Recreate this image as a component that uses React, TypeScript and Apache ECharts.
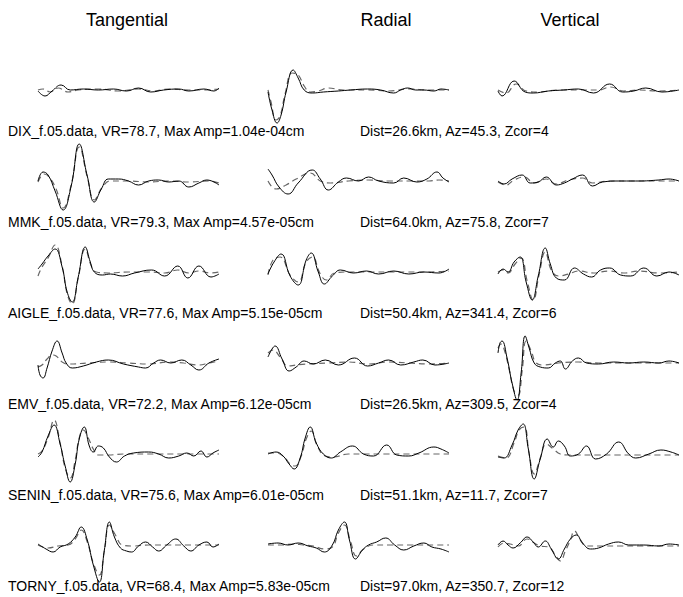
import React, { useEffect, useRef } from "react";
import * as echarts from "echarts";

// Column titles
const componentTitles = ["Tangential", "Radial", "Vertical"];

// Row annotations
const stationLabels = [
  "DIX_f.05.data, VR=78.7, Max Amp=1.04e-04cm",
  "MMK_f.05.data, VR=79.3, Max Amp=4.57e-05cm",
  "AIGLE_f.05.data, VR=77.6, Max Amp=5.15e-05cm",
  "EMV_f.05.data, VR=72.2, Max Amp=6.12e-05cm",
  "SENIN_f.05.data, VR=75.6, Max Amp=6.01e-05cm",
  "TORNY_f.05.data, VR=68.4, Max Amp=5.83e-05cm",
];
const geometryLabels = [
  "Dist=26.6km, Az=45.3, Zcor=4",
  "Dist=64.0km, Az=75.8, Zcor=7",
  "Dist=50.4km, Az=341.4, Zcor=6",
  "Dist=26.5km, Az=309.5, Zcor=4",
  "Dist=51.1km, Az=11.7, Zcor=7",
  "Dist=97.0km, Az=350.7, Zcor=12",
];

// Waveforms: [time sample, relative amplitude]
// DIX
const DIX_T_OBS = [[0,-1],[7,-6],[14,-1],[23,5],[32,0],[45,1],[60,0],[75,1],[88,-1],[100,2],[112,-2],[125,0],[140,1],[150,-1],[165,1],[175,-1],[180,2]];
const DIX_T_SYN = [[0,0],[5,1],[12,-2],[20,2],[30,-2],[40,0],[60,1],[80,-1],[100,1],[115,-1],[130,1],[150,0],[165,0],[180,1]];
const DIX_R_OBS = [[0,-2],[4,-20],[9,-33],[13,-25],[18,-2],[25,20],[30,12],[36,0],[44,-3],[55,-2],[70,-1],[82,0],[99,1],[112,0],[125,-3],[132,0],[139,2],[147,0],[155,0],[165,-1],[172,1],[180,0]];
const DIX_R_SYN = [[0,0],[3,-12],[8,-30],[12,-26],[17,-4],[24,17],[30,15],[36,4],[42,-2],[50,-1],[60,2],[75,0],[100,0],[120,-1],[140,1],[160,0],[180,0]];
const DIX_V_OBS = [[0,-1],[4,-6],[16,9],[27,-2],[35,-3],[50,-1],[65,0],[80,1],[95,-3],[111,6],[124,-2],[135,-1],[147,2],[163,-2],[180,0]];
const DIX_V_SYN = [[0,0],[8,-3],[18,6],[28,-1],[40,-2],[60,0],[80,0],[100,0],[112,3],[125,-1],[140,0],[160,-1],[180,0]];
// MMK
const MMK_T_OBS = [[0,0],[5,9],[10,6],[17,-10],[25,-29],[33,-5],[41,37],[49,5],[56,-21],[63,-8],[70,2],[80,2],[90,0],[100,-4],[110,0],[120,1],[130,-1],[140,0],[150,-6],[160,-2],[168,1],[180,-4]];
const MMK_T_SYN = [[0,-1],[6,7],[11,4],[18,-8],[25,-27],[33,-4],[41,34],[49,4],[56,-19],[64,-6],[72,0],[90,0],[110,-1],[130,0],[150,-1],[170,0],[180,-2]];
const MMK_R_OBS = [[0,12],[4,6],[11,-6],[20,-13],[30,-2],[44,11],[52,2],[60,-9],[70,-1],[78,3],[90,0],[100,4],[110,0],[125,-2],[135,3],[148,-1],[158,2],[168,9],[174,3],[180,-1]];
const MMK_R_SYN = [[0,0],[8,-8],[18,-4],[28,2],[42,8],[52,0],[62,-2],[80,0],[100,1],[120,0],[140,0],[160,0],[170,1],[180,0]];
const MMK_V_OBS = [[0,0],[6,-3],[14,2],[24,6],[32,-2],[40,-1],[48,4],[58,-4],[66,-2],[74,2],[84,6],[94,-5],[104,-1],[120,0],[140,0],[160,1],[170,2],[180,0]];
const MMK_V_SYN = [[0,-1],[8,-4],[16,1],[26,4],[36,-2],[48,2],[58,-3],[70,1],[84,3],[94,-2],[110,0],[140,0],[160,0],[180,0]];
// AIGLE
const AIGLE_T_OBS = [[0,3],[4,8],[10,16],[17,23],[24,5],[29,-20],[34,-30],[40,-5],[47,25],[52,10],[56,0],[64,-3],[72,-2],[84,-4],[96,-1],[113,2],[126,-4],[139,6],[149,-6],[160,6],[172,-5],[180,-2]];
const AIGLE_T_SYN = [[0,-4],[4,5],[10,14],[17,27],[24,6],[29,-22],[34,-32],[40,-6],[47,23],[53,6],[58,0],[70,-1],[90,0],[110,0],[126,-1],[139,2],[150,-1],[160,1],[172,-1],[180,0]];
const AIGLE_R_OBS = [[0,-2],[6,10],[13,18],[22,-4],[30,-13],[38,12],[43,19],[50,0],[56,-12],[64,-4],[72,2],[85,-1],[98,1],[110,-2],[125,1],[140,-2],[155,0],[170,-1],[180,3]];
const AIGLE_R_SYN = [[0,-3],[5,12],[12,15],[22,-3],[30,-10],[38,10],[44,15],[52,-2],[58,-8],[66,-1],[80,0],[100,0],[120,0],[140,0],[160,0],[180,1]];
const AIGLE_V_OBS = [[0,-2],[5,3],[10,0],[16,10],[22,15],[28,-10],[34,-28],[40,-4],[47,24],[52,8],[58,-6],[66,-8],[76,4],[85,-2],[93,-5],[102,2],[111,4],[122,-3],[132,-4],[145,4],[158,-4],[170,0],[180,-3]];
const AIGLE_V_SYN = [[0,0],[5,2],[10,-1],[17,8],[23,14],[29,-9],[35,-28],[41,-2],[47,20],[53,2],[60,-4],[70,-2],[80,1],[95,-1],[110,1],[125,-1],[140,1],[160,-1],[180,0]];
// EMV
const EMV_T_OBS = [[0,-2],[2,-12],[5,-15],[9,-5],[14,12],[19,22],[24,10],[28,0],[34,-5],[45,-3],[58,1],[70,3],[85,-1],[100,-4],[107,-5],[115,0],[122,3],[132,0],[143,3],[152,-2],[160,-7],[170,0],[180,4]];
const EMV_T_SYN = [[0,-4],[4,-2],[9,4],[14,8],[18,7],[24,1],[30,-1],[50,0],[70,1],[90,0],[110,-1],[130,1],[145,0],[160,-2],[170,0],[180,2]];
const EMV_R_OBS = [[0,6],[4,14],[7,17],[14,4],[21,-8],[28,-4],[36,2],[45,-1],[57,3],[70,-2],[86,5],[99,-3],[110,0],[120,3],[132,-2],[145,1],[154,3],[166,-2],[180,0]];
const EMV_R_SYN = [[0,10],[5,13],[12,6],[20,-3],[28,-2],[40,-1],[60,0],[80,1],[100,-1],[120,1],[140,0],[160,-1],[180,0]];
const EMV_V_OBS = [[0,10],[2,20],[4,22],[9,5],[14,-20],[19,-37],[23,-10],[27,27],[31,15],[36,0],[42,-4],[50,-5],[57,0],[62,2],[67,-6],[74,2],[80,5],[88,0],[100,-1],[115,1],[130,0],[145,1],[160,0],[170,2],[180,0]];
const EMV_V_SYN = [[0,15],[3,19],[6,14],[11,-6],[16,-28],[20,-32],[24,-8],[28,22],[33,12],[38,0],[45,-2],[60,0],[80,1],[100,0],[120,0],[140,0],[160,0],[180,0]];
// SENIN
const SENIN_T_OBS = [[0,-3],[4,2],[10,18],[16,29],[22,10],[27,-12],[32,-28],[37,-10],[41,15],[46,27],[51,8],[55,2],[60,8],[65,6],[71,-3],[78,-8],[86,-2],[95,1],[110,2],[120,0],[130,-4],[140,-2],[148,1],[155,-2],[162,3],[168,-3],[174,1],[180,4]];
const SENIN_T_SYN = [[0,0],[4,3],[10,16],[16,34],[22,11],[27,-14],[32,-24],[37,-6],[41,16],[45,24],[50,16],[55,5],[60,-1],[70,-1],[85,0],[110,0],[140,0],[160,0],[180,0]];
const SENIN_R_OBS = [[0,0],[8,2],[15,-2],[21,-10],[26,-15],[32,-4],[37,16],[42,27],[48,11],[55,0],[63,-4],[72,2],[84,8],[95,0],[105,-2],[118,9],[128,-1],[140,-2],[150,1],[165,7],[172,5],[180,1]];
const SENIN_R_SYN = [[0,1],[8,1],[16,-3],[22,-10],[27,-12],[33,-2],[38,15],[43,23],[49,8],[57,-2],[65,-3],[80,0],[100,0],[120,0],[140,0],[160,0],[180,0]];
const SENIN_V_OBS = [[0,-3],[6,-4],[14,9],[20,24],[25,30],[30,6],[36,-25],[42,-5],[49,15],[55,7],[60,13],[66,8],[72,-2],[80,0],[88,8],[97,-5],[108,0],[120,12],[130,0],[137,-4],[150,0],[162,4],[172,2],[180,-1]];
const SENIN_V_SYN = [[0,-2],[8,-4],[16,11],[21,24],[26,27],[31,0],[36,-20],[42,-4],[48,10],[55,5],[62,0],[70,-1],[80,-1],[100,-1],[120,-1],[140,-1],[160,-1],[180,-1]];
// TORNY
const TORNY_T_OBS = [[0,1],[8,-4],[15,-7],[22,-2],[30,1],[37,8],[43,18],[49,5],[55,-20],[61,-37],[66,-5],[71,23],[76,8],[82,-3],[88,-6],[93,-7],[100,-1],[107,3],[114,-2],[120,-6],[128,0],[137,6],[145,-1],[152,-6],[160,0],[168,3],[174,-2],[180,1]];
const TORNY_T_SYN = [[0,0],[10,-3],[20,-1],[30,0],[37,6],[43,15],[49,3],[55,-18],[61,-30],[66,-6],[71,20],[77,10],[84,0],[95,-1],[110,0],[130,0],[150,0],[180,0]];
const TORNY_R_OBS = [[0,1],[10,2],[20,0],[30,2],[40,-1],[48,-3],[56,-7],[64,0],[70,15],[76,23],[81,5],[87,-14],[94,-5],[100,0],[108,3],[117,7],[126,0],[135,-5],[145,-1],[155,2],[163,-2],[172,-4],[180,-7]];
const TORNY_R_SYN = [[0,0],[12,0],[25,1],[35,0],[45,-1],[56,-4],[64,-2],[70,12],[76,20],[82,4],[88,-11],[95,-4],[105,0],[120,0],[140,0],[160,0],[180,0]];
const TORNY_V_OBS = [[0,0],[5,4],[10,0],[15,-3],[22,2],[29,8],[35,3],[40,-2],[47,4],[53,-4],[60,-14],[66,-4],[72,6],[78,10],[84,2],[92,-4],[100,-3],[110,1],[120,3],[130,0],[145,0],[160,-1],[170,1],[180,0]];
const TORNY_V_SYN = [[0,-2],[6,2],[12,1],[20,-1],[29,6],[36,2],[42,-1],[50,-2],[57,-10],[62,-16],[67,-6],[72,5],[76,14],[82,5],[88,-1],[100,-1],[120,-1],[140,-1],[160,-1],[180,-1]];

const traces = [
  [[DIX_T_OBS, DIX_T_SYN], [DIX_R_OBS, DIX_R_SYN], [DIX_V_OBS, DIX_V_SYN]],
  [[MMK_T_OBS, MMK_T_SYN], [MMK_R_OBS, MMK_R_SYN], [MMK_V_OBS, MMK_V_SYN]],
  [[AIGLE_T_OBS, AIGLE_T_SYN], [AIGLE_R_OBS, AIGLE_R_SYN], [AIGLE_V_OBS, AIGLE_V_SYN]],
  [[EMV_T_OBS, EMV_T_SYN], [EMV_R_OBS, EMV_R_SYN], [EMV_V_OBS, EMV_V_SYN]],
  [[SENIN_T_OBS, SENIN_T_SYN], [SENIN_R_OBS, SENIN_R_SYN], [SENIN_V_OBS, SENIN_V_SYN]],
  [[TORNY_T_OBS, TORNY_T_SYN], [TORNY_R_OBS, TORNY_R_SYN], [TORNY_V_OBS, TORNY_V_SYN]],
];

const FONT = "'Liberation Sans', Arial, sans-serif";
const COL_LEFT = [38, 268, 498];
const COL_W = 181;
const ROW_BASE0 = 90;
const ROW_STEP = 91;
const HALF = 45;
const TITLE_X = [127, 386, 570];

export default function App() {
  const ref = useRef<HTMLDivElement>(null);
  useEffect(() => {
    if (!ref.current) return;
    const chart = echarts.init(ref.current, null, { renderer: "svg" });
    const grid: any[] = [];
    const xAxis: any[] = [];
    const yAxis: any[] = [];
    const series: any[] = [];
    traces.forEach((row, r) => {
      row.forEach((pair, c) => {
        const idx = grid.length;
        grid.push({
          left: COL_LEFT[c],
          top: ROW_BASE0 + r * ROW_STEP - HALF,
          width: COL_W,
          height: HALF * 2,
          containLabel: false,
        });
        xAxis.push({ type: "value", gridIndex: idx, min: 0, max: 180, show: false });
        yAxis.push({ type: "value", gridIndex: idx, min: -HALF, max: HALF, show: false });
        series.push({
          type: "line",
          xAxisIndex: idx,
          yAxisIndex: idx,
          data: pair[0],
          smooth: 0.45,
          showSymbol: false,
          clip: false,
          lineStyle: { color: "#000", width: 1 },
          z: 3,
        });
        series.push({
          type: "line",
          xAxisIndex: idx,
          yAxisIndex: idx,
          data: pair[1],
          smooth: 0.45,
          showSymbol: false,
          clip: false,
          lineStyle: { color: "#666", width: 1.2, type: [6, 4] },
          z: 2,
        });
      });
    });
    const graphic: any[] = [];
    componentTitles.forEach((t, i) => {
      graphic.push({
        type: "text",
        x: TITLE_X[i],
        y: 20,
        style: { text: t, font: `18px ${FONT}`, fill: "#000", align: "center", verticalAlign: "middle" },
      });
    });
    stationLabels.forEach((t, r) => {
      graphic.push({
        type: "text",
        x: 8,
        y: ROW_BASE0 + r * ROW_STEP + 41,
        style: { text: t, font: `14px ${FONT}`, fill: "#000", align: "left", verticalAlign: "middle" },
      });
      graphic.push({
        type: "text",
        x: 360,
        y: ROW_BASE0 + r * ROW_STEP + 41,
        style: { text: geometryLabels[r], font: `14px ${FONT}`, fill: "#000", align: "left", verticalAlign: "middle" },
      });
    });
    chart.setOption({
      animation: false,
      backgroundColor: "#fff",
      grid,
      xAxis,
      yAxis,
      series,
      graphic,
    });
    return () => chart.dispose();
  }, []);
  return (
    <div
      ref={ref}
      style={{ position: "fixed", left: 0, top: 0, width: 683, height: 597, background: "#fff" }}
    />
  );
}
